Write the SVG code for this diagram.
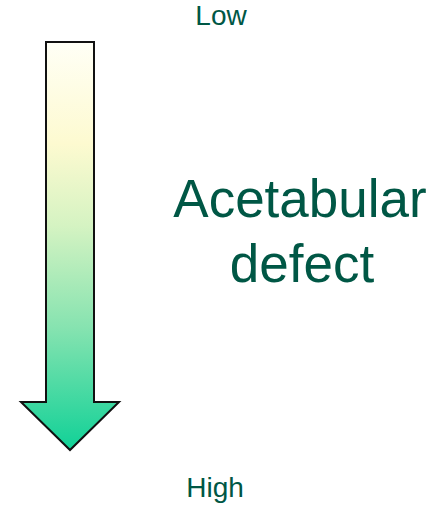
<svg xmlns="http://www.w3.org/2000/svg" width="444" height="505" viewBox="0 0 444 505">
<style>
.t{font-family:"Liberation Sans",Arial,sans-serif;fill:#005745;text-anchor:middle}
</style>
<defs>
<linearGradient id="g" x1="0" y1="42" x2="0" y2="450" gradientUnits="userSpaceOnUse">
<stop offset="0" stop-color="#fffff6"/>
<stop offset="0.25" stop-color="#fdfad0"/>
<stop offset="0.45" stop-color="#d5f3c2"/>
<stop offset="0.7" stop-color="#86e3b0"/>
<stop offset="1" stop-color="#10d197"/>
</linearGradient>
</defs>
<rect width="444" height="505" fill="#fff"/>
<g id="arrow">
<path d="M46,42 H94 V402 H119 L70,450 L21,402 H46 Z" fill="url(#g)" stroke="#111" stroke-width="2" stroke-linejoin="miter"/>
</g>
<g id="low"><text class="t" x="221" y="25" font-size="28">Low</text></g>
<g id="title">
<text class="t" x="300" y="217" font-size="53">Acetabular</text>
<text class="t" x="302" y="282" font-size="53">defect</text>
</g>
<g id="high"><text class="t" x="215" y="497" font-size="28">High</text></g>
<g id="connectors"/>
</svg>
